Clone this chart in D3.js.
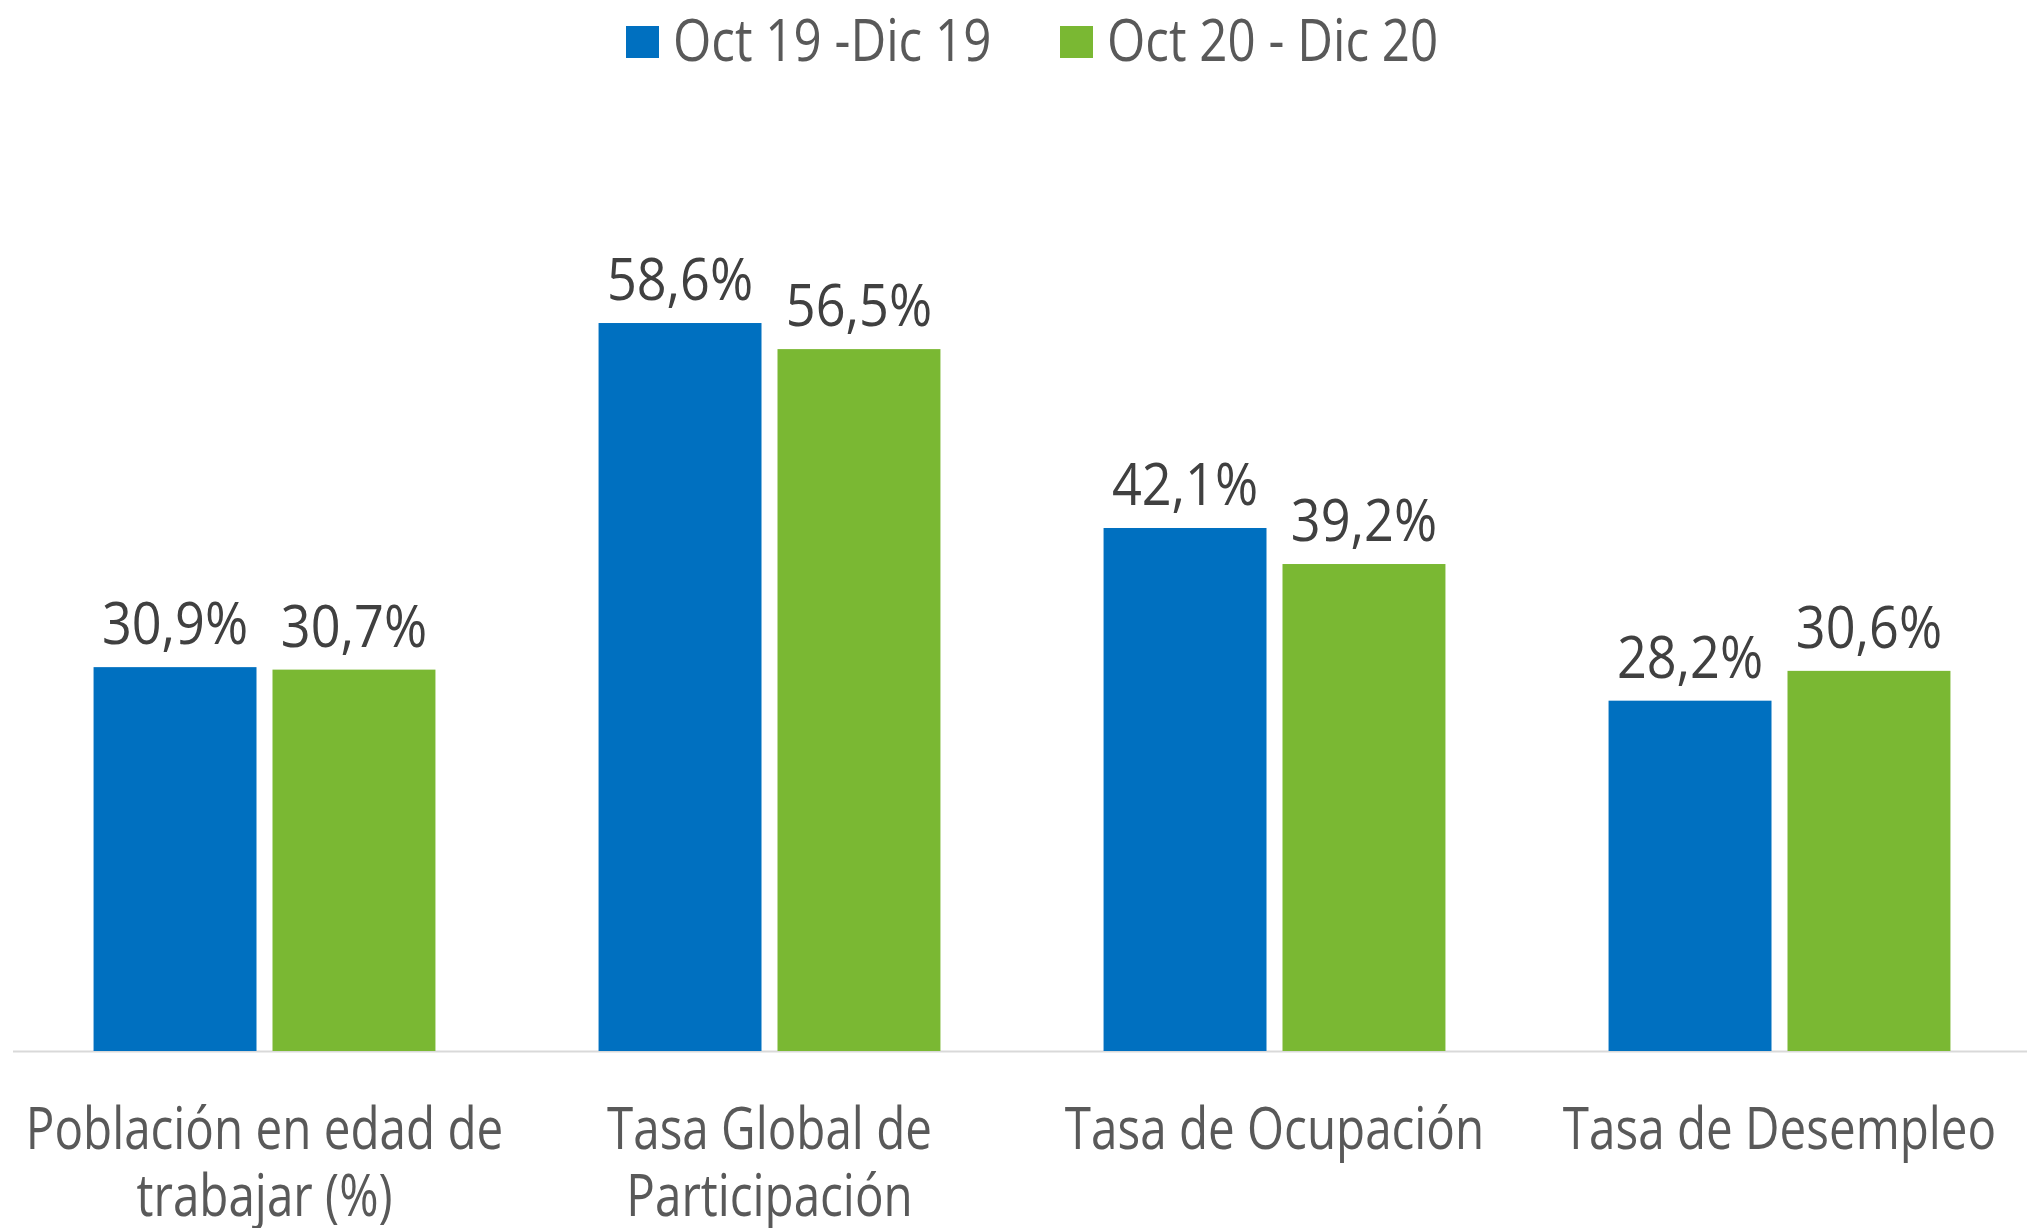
<!DOCTYPE html>
<html>
<head>
<meta charset="utf-8">
<script src="https://cdn.jsdelivr.net/npm/d3@7"></script>
<style>
  body { margin: 0; background: #fff; }
  svg text { font-family: "Open Sans", "Noto Sans", sans-serif; }
</style>
</head>
<body>
<svg id="chart" width="2027" height="1228"></svg>
<script>
"use strict";

// data
var categories = [
  ["Población en edad de", "trabajar (%)"],
  ["Tasa Global de", "Participación"],
  ["Tasa de Ocupación"],
  ["Tasa de Desempleo"]
];
var seriesNames = ["Oct 19 -Dic 19", "Oct 20 - Dic 20"];
var values2019 = [30.9, 58.6, 42.1, 28.2];
var values2020 = [30.7, 56.5, 39.2, 30.6];
var colors = ["#0070c0", "#7ab833"];

var svg = d3.select("#chart");
var baseY = 1051;

var x0 = d3.scaleBand()
  .domain(d3.range(categories.length))
  .range([12, 2032])
  .paddingInner(0.323)
  .paddingOuter(0.1615);

var x1 = d3.scaleBand()
  .domain([0, 1])
  .range([0, x0.bandwidth()])
  .paddingInner(0.0894);

var y = d3.scaleLinear()
  .domain([0, 70])
  .range([baseY, baseY - 869.6]);

var fmt = function (v) { return v.toFixed(1).replace(".", ",") + "%"; };

// the original face is a condensed one, so squeeze Open Sans a bit
function condense(k) {
  return function (sel) {
    sel.each(function () {
      var len = this.getComputedTextLength();
      d3.select(this)
        .attr("textLength", len * k)
        .attr("lengthAdjust", "spacingAndGlyphs");
    });
  };
}

var rows = categories.map(function (c, i) {
  return { i: i, vals: [values2019[i], values2020[i]] };
});

// axis line
svg.append("line")
  .attr("x1", 13).attr("x2", 2027)
  .attr("y1", baseY + 0.5).attr("y2", baseY + 0.5)
  .attr("stroke", "#d9d9d9")
  .attr("stroke-width", 2);

var groups = svg.selectAll(".grp")
  .data(rows)
  .enter().append("g")
  .attr("class", "grp")
  .attr("transform", function (d) { return "translate(" + x0(d.i) + ",0)"; });

groups.selectAll("rect")
  .data(function (d) { return d.vals; })
  .enter().append("rect")
  .attr("x", function (d, j) { return x1(j); })
  .attr("y", function (d) { return y(d); })
  .attr("width", x1.bandwidth())
  .attr("height", function (d) { return baseY - y(d); })
  .attr("fill", function (d, j) { return colors[j]; });

groups.selectAll(".val")
  .data(function (d) { return d.vals; })
  .enter().append("text")
  .attr("class", "val")
  .attr("x", function (d, j) { return x1(j) + x1.bandwidth() / 2; })
  .attr("y", function (d) { return y(d) - 23; })
  .attr("text-anchor", "middle")
  .attr("font-size", 58)
  .attr("fill", "#404040")
  .text(fmt)
  .call(condense(0.9));

// category labels
svg.selectAll(".cat")
  .data(categories)
  .enter().append("text")
  .attr("class", "cat")
  .attr("text-anchor", "middle")
  .attr("font-size", 58)
  .attr("fill", "#595959")
  .attr("transform", function (d, i) { return "translate(" + (x0(i) + x0.bandwidth() / 2) + ",1149)"; })
  .selectAll("tspan")
  .data(function (d) { return d; })
  .enter().append("tspan")
  .attr("x", 0)
  .attr("dy", function (d, k) { return k === 0 ? 0 : 67; })
  .text(function (d) { return d; })
  .call(condense(0.82));

// legend
var legendX = [626, 1060];
var legend = svg.selectAll(".leg")
  .data(seriesNames)
  .enter().append("g")
  .attr("class", "leg")
  .attr("transform", function (d, i) { return "translate(" + legendX[i] + ",0)"; });

legend.append("rect")
  .attr("x", 0).attr("y", 26)
  .attr("width", 33).attr("height", 32)
  .attr("fill", function (d, i) { return colors[i]; });

legend.append("text")
  .attr("x", 47).attr("y", 61)
  .attr("font-size", 58)
  .attr("fill", "#595959")
  .text(function (d) { return d; })
  .call(condense(0.85));
</script>
</body>
</html>
